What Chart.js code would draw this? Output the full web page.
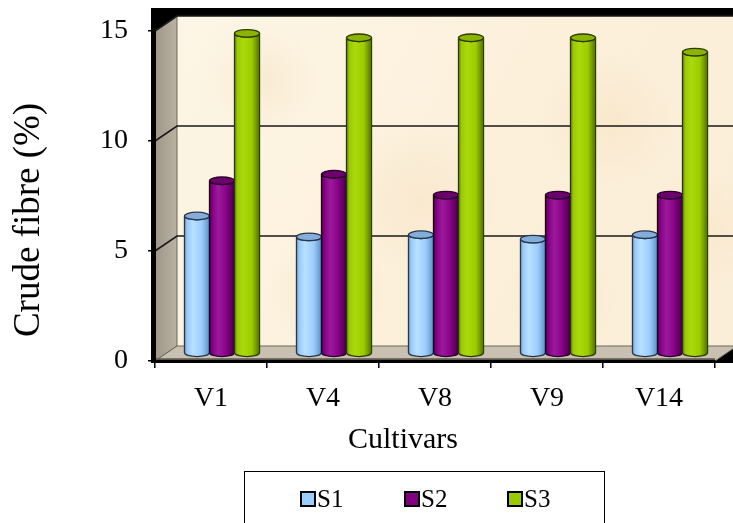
<!DOCTYPE html>
<html>
<head>
<meta charset="utf-8">
<script src="https://cdn.jsdelivr.net/npm/chart.js@4.4.0/dist/chart.umd.min.js"></script>
<style>
  html, body { margin: 0; padding: 0; background: #ffffff; }
  #wrap { width: 733px; height: 523px; }
</style>
</head>
<body>
<div id="wrap"><canvas id="chart" width="733" height="523"></canvas></div>
<script>
// Crude fibre content per cultivar for three sowing dates
const cultivars = ['V1', 'V4', 'V8', 'V9', 'V14'];
const seriesNames = ['S1', 'S2', 'S3'];
const s1Values = [6.25, 5.3, 5.4, 5.2, 5.4];
const s2Values = [7.85, 8.15, 7.2, 7.2, 7.2];
const s3Values = [14.55, 14.35, 14.35, 14.35, 13.7];
const yTickValues = [0, 5, 10, 15];
const yTitle = 'Crude fibre (%)';
const xTitle = 'Cultivars';

const SERIF = "'Liberation Serif', 'Times New Roman', serif";

// cylinder shading per series: body edge, body highlight, body mid, top cap
const shades = [
  { base: '#99ccff', edge: '#6f9fd2', light: '#b9e0ff', mid: '#9accfb', top: '#84add9', line: '#26374d' },
  { base: '#800080', edge: '#4e004e', light: '#9c1a9c', mid: '#850085', top: '#6c006c', line: '#2a002a' },
  { base: '#99cc00', edge: '#668800', light: '#acd90a', mid: '#9acb00', top: '#8ab400', line: '#2c3a00' }
];

// depth of the 3-D box in pixels
const DX = 22, DY = -15;

const wallsPlugin = {
  id: 'walls',
  beforeDraw(chart) {
    const { ctx, scales: { x, y } } = chart;
    const L = x.left, R = x.right;
    const y0 = y.getPixelForValue(0);
    const yTop = y.getPixelForValue(yTickValues[yTickValues.length - 1]);
    ctx.save();
    ctx.fillStyle = '#ffffff';
    ctx.fillRect(0, 0, chart.width, chart.height);

    // dark frame behind the box
    ctx.fillStyle = '#000000';
    ctx.fillRect(L - 4, yTop + DY - 8, chart.width - (L - 4), y0 - (yTop + DY - 8) + 2);

    // back wall
    const bx = L + DX, by = yTop + DY, bw = chart.width - bx + 10, bh = y0 - yTop;
    let g = ctx.createLinearGradient(bx, by, bx + bw, by + bh);
    g.addColorStop(0, '#fdf6e6');
    g.addColorStop(0.5, '#fcf0db');
    g.addColorStop(1, '#fbeed8');
    ctx.fillStyle = g;
    ctx.fillRect(bx, by, bw, bh);
    // soft parchment blotches
    const blotches = [[260, 80, 60], [420, 200, 80], [610, 120, 70], [330, 290, 60], [560, 300, 55], [700, 230, 60]];
    ctx.save();
    ctx.beginPath(); ctx.rect(bx, by, bw, bh); ctx.clip();
    blotches.forEach(([cx, cy, r]) => {
      const rg = ctx.createRadialGradient(cx, cy, 0, cx, cy, r);
      rg.addColorStop(0, 'rgba(240,215,175,0.3)');
      rg.addColorStop(1, 'rgba(240,215,175,0)');
      ctx.fillStyle = rg;
      ctx.fillRect(cx - r, cy - r, 2 * r, 2 * r);
    });
    ctx.restore();

    // side wall
    g = ctx.createLinearGradient(L, 0, L + DX, 0);
    g.addColorStop(0, '#9e9686');
    g.addColorStop(1, '#b9b1a1');
    ctx.fillStyle = g;
    ctx.beginPath();
    ctx.moveTo(L, yTop); ctx.lineTo(L + DX, yTop + DY);
    ctx.lineTo(L + DX, y0 + DY); ctx.lineTo(L, y0);
    ctx.closePath(); ctx.fill();
    ctx.strokeStyle = '#6d675d'; ctx.lineWidth = 1; ctx.stroke();

    // floor
    ctx.fillStyle = '#c8c0b0';
    ctx.beginPath();
    ctx.moveTo(L, y0); ctx.lineTo(L + DX, y0 + DY);
    ctx.lineTo(R + DX, y0 + DY); ctx.lineTo(R, y0);
    ctx.closePath(); ctx.fill();
    ctx.strokeStyle = '#6d675d'; ctx.lineWidth = 1; ctx.stroke();
    ctx.strokeStyle = '#5c5750'; ctx.lineWidth = 2.5;
    ctx.beginPath(); ctx.moveTo(L, y0 - 1.5); ctx.lineTo(R, y0 - 1.5); ctx.stroke();

    // gridlines on back and side walls
    ctx.strokeStyle = '#1a1a1a'; ctx.lineWidth = 1.6;
    yTickValues.forEach(v => {
      if (v === 0) return;
      const yf = y.getPixelForValue(v);
      ctx.beginPath();
      ctx.moveTo(L, yf); ctx.lineTo(L + DX, yf + DY);
      ctx.lineTo(chart.width + 5, yf + DY);
      ctx.stroke();
    });
    ctx.restore();
  }
};

function drawCylinder(ctx, cx, top, bottom, r, s) {
  const ry = 3.8;
  const g = ctx.createLinearGradient(cx - r, 0, cx + r, 0);
  g.addColorStop(0, s.edge);
  g.addColorStop(0.12, s.mid);
  g.addColorStop(0.35, s.light);
  g.addColorStop(0.7, s.mid);
  g.addColorStop(0.92, s.edge);
  g.addColorStop(1, s.edge);
  ctx.beginPath();
  ctx.moveTo(cx - r, top);
  ctx.lineTo(cx - r, bottom);
  ctx.ellipse(cx, bottom, r, ry, 0, Math.PI, 0, true);
  ctx.lineTo(cx + r, top);
  ctx.ellipse(cx, top, r, ry, 0, 0, Math.PI, false);
  ctx.closePath();
  ctx.fillStyle = g;
  ctx.fill();
  ctx.strokeStyle = s.line; ctx.lineWidth = 1.3;
  ctx.stroke();
  ctx.beginPath();
  ctx.ellipse(cx, top, r, ry, 0, 0, Math.PI * 2);
  ctx.fillStyle = s.top;
  ctx.fill();
  ctx.stroke();
}

const cylinderPlugin = {
  id: 'cylinders',
  beforeDatasetsDraw(chart) {
    const { ctx } = chart;
    ctx.save();
    const metas = chart.data.datasets.map((d, i) => chart.getDatasetMeta(i));
    for (let j = 0; j < cultivars.length; j++) {
      metas.forEach((meta, i) => {
        const bar = meta.data[j];
        const p = bar.getProps(['x', 'y', 'base', 'width'], true);
        drawCylinder(ctx, p.x + DX / 2, p.y + DY / 2, p.base + DY / 2, p.width / 2, shades[i]);
      });
    }
    ctx.restore();
    return false;
  }
};

const titlesLegendPlugin = {
  id: 'titlesLegend',
  afterDraw(chart) {
    const { ctx } = chart;
    ctx.save();
    ctx.fillStyle = '#000';
    ctx.textAlign = 'center';
    ctx.textBaseline = 'middle';
    ctx.font = '30px ' + SERIF;
    ctx.fillText(xTitle, 403, 440);
    ctx.save();
    ctx.translate(29, 220);
    ctx.rotate(-Math.PI / 2);
    ctx.font = '37px ' + SERIF;
    ctx.fillText(yTitle, 0, 0);
    ctx.restore();

    // legend box
    ctx.strokeStyle = '#000'; ctx.lineWidth = 1;
    ctx.strokeRect(244.5, 471.5, 360, 70);
    const itemX = [301, 405, 508];
    ctx.font = '25px ' + SERIF;
    ctx.textAlign = 'left';
    chart.data.datasets.forEach((ds, i) => {
      ctx.fillStyle = ds.backgroundColor;
      ctx.fillRect(itemX[i], 492, 14, 14);
      ctx.lineWidth = 2; ctx.strokeStyle = '#000';
      ctx.strokeRect(itemX[i], 492, 14, 14);
      ctx.fillStyle = '#000';
      ctx.fillText(ds.label, itemX[i] + 16, 500);
    });
    ctx.restore();
  }
};

new Chart(document.getElementById('chart'), {
  type: 'bar',
  data: {
    labels: cultivars,
    datasets: [
      { label: seriesNames[0], data: s1Values, backgroundColor: shades[0].base },
      { label: seriesNames[1], data: s2Values, backgroundColor: shades[1].base },
      { label: seriesNames[2], data: s3Values, backgroundColor: shades[2].base }
    ]
  },
  options: {
    responsive: false,
    devicePixelRatio: 1,
    animation: false,
    layout: { padding: { top: 31, right: 18, left: 0, bottom: 0 } },
    datasets: { bar: { barPercentage: 1, categoryPercentage: 0.67 } },
    plugins: { legend: { display: false }, tooltip: { enabled: false } },
    scales: {
      x: {
        offset: true,
        afterFit(scale) { scale.height = 162; scale.paddingLeft = 0; scale.paddingRight = 0; },
        grid: { offset: true, drawOnChartArea: false, drawTicks: true, tickLength: 7, color: '#000', lineWidth: 1.5 },
        border: { color: '#000', width: 2 },
        ticks: { font: { family: SERIF, size: 28 }, color: '#000', padding: 14 }
      },
      y: {
        min: 0, max: 15,
        afterFit(scale) { scale.width = 155; scale.paddingTop = 0; scale.paddingBottom = 0; },
        afterBuildTicks(scale) { scale.ticks = yTickValues.map(v => ({ value: v })); },
        grid: { drawOnChartArea: false, drawTicks: true, tickLength: 7, color: '#000', lineWidth: 1.5 },
        border: { color: '#000', width: 2 },
        ticks: { font: { family: SERIF, size: 28 }, color: '#000', padding: 20 }
      }
    }
  },
  plugins: [wallsPlugin, cylinderPlugin, titlesLegendPlugin]
});
</script>
</body>
</html>
